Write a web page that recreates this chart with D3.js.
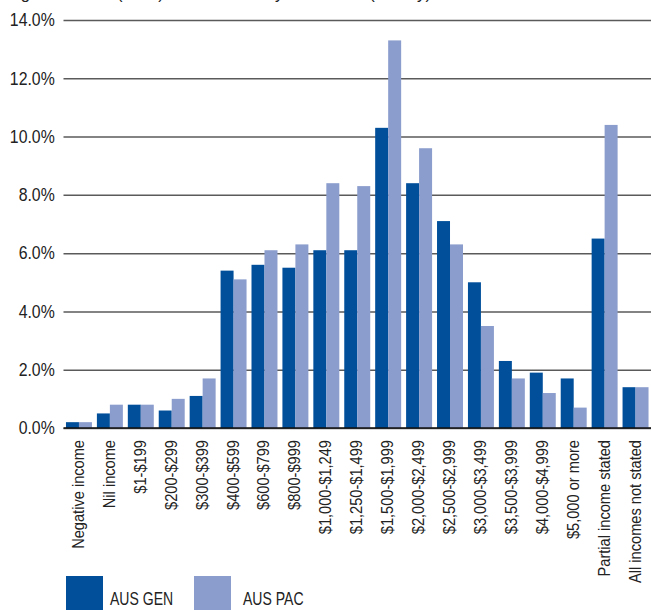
<!DOCTYPE html>
<html>
<head>
<meta charset="utf-8">
<script src="https://cdn.jsdelivr.net/npm/d3@7"></script>
<style>
  html, body { margin: 0; padding: 0; background: #fff; }
  svg { display: block; }
  text { font-family: "Liberation Sans", Arial, sans-serif; fill: #222; }
</style>
</head>
<body>
<svg id="chart" width="651" height="610"></svg>
<script>
const categories = [
  "Negative income", "Nil income", "$1-$199", "$200-$299", "$300-$399",
  "$400-$599", "$600-$799", "$800-$999", "$1,000-$1,249", "$1,250-$1,499",
  "$1,500-$1,999", "$2,000-$2,499", "$2,500-$2,999", "$3,000-$3,499",
  "$3,500-$3,999", "$4,000-$4,999", "$5,000 or more", "Partial income stated",
  "All incomes not stated"
];
const seriesNames = ["AUS GEN", "AUS PAC"];
const ausGen = [0.2, 0.5, 0.8, 0.6, 1.1, 5.4, 5.6, 5.5, 6.1, 6.1, 10.3, 8.4, 7.1, 5.0, 2.3, 1.9, 1.7, 6.5, 1.4];
const ausPac = [0.2, 0.8, 0.8, 1.0, 1.7, 5.1, 6.1, 6.3, 8.4, 8.3, 13.3, 9.6, 6.3, 3.5, 1.7, 1.2, 0.7, 10.4, 1.4];
const yTicks = [0, 2, 4, 6, 8, 10, 12, 14];
const titleParts = ["Figure 10.12", "(2011) Total income by household (weekly)"];
const colors = ["#014f9b", "#8b9dcd"];

const svg = d3.select("#chart");
const margin = { left: 63.5, right: 0, top: 20, bottom: 182 };
const W = 651, H = 610;

const x = d3.scaleBand().domain(categories).range([margin.left, W - margin.right])
  .paddingInner(0.16).paddingOuter(0.08);
const y = d3.scaleLinear().domain([0, 14]).range([H - margin.bottom, margin.top]);
const xs = d3.scaleBand().domain(seriesNames).range([0, x.bandwidth()]);

// title (cut off at the top in the reference; only descenders visible)
const title = svg.append("text").attr("y", -1).attr("font-size", 16.6);
title.append("tspan").attr("x", 7).text(titleParts[0]);
title.append("tspan").attr("x", 117).text(titleParts[1]);

// gridlines + y axis labels
const yAxis = d3.axisLeft(y).tickValues(yTicks)
  .tickFormat(d => d.toFixed(1) + "%")
  .tickSize(-(W - margin.left)).tickPadding(10);
const gy = svg.append("g").attr("transform", `translate(${margin.left},0)`).call(yAxis);
gy.select(".domain").remove();
gy.selectAll(".tick line").attr("stroke", "#5a5a5a").attr("stroke-width", 1.5);
gy.selectAll(".tick text").attr("font-size", 18).attr("fill", "#222")
  .style("font-family", '"Liberation Sans", Arial, sans-serif')
  .attr("transform", "scale(0.88,1)");

// bars
const rows = categories.map((c, i) => ({ c, vals: [ausGen[i], ausPac[i]] }));
const grp = svg.append("g").selectAll("g").data(rows).join("g")
  .attr("transform", d => `translate(${x(d.c)},0)`);
grp.selectAll("rect").data(d => d.vals.map((v, j) => ({ s: seriesNames[j], v, j })))
  .join("rect")
  .attr("x", d => xs(d.s))
  .attr("width", xs.bandwidth())
  .attr("y", d => y(d.v))
  .attr("height", d => y(0) - y(d.v))
  .attr("fill", d => colors[d.j]);

// baseline
svg.append("line").attr("x1", margin.left).attr("x2", W)
  .attr("y1", y(0)).attr("y2", y(0)).attr("stroke", "#111").attr("stroke-width", 1.5);

// x axis labels
const xAxis = d3.axisBottom(x).tickSize(0).tickPadding(0);
const gx = svg.append("g").attr("transform", `translate(0,${y(0)})`).call(xAxis);
gx.select(".domain").remove();
gx.selectAll(".tick text")
  .attr("font-size", 17).attr("fill", "#222")
  .style("font-family", '"Liberation Sans", Arial, sans-serif')
  .attr("text-anchor", "end")
  .attr("dy", null)
  .attr("transform", "translate(5,12) rotate(-90) scale(0.86,1)")
  .attr("x", 0).attr("y", 0);

// legend
const legX = [66, 194];
const lg = svg.append("g").selectAll("g").data(seriesNames).join("g")
  .attr("transform", (d, i) => `translate(${legX[i]},576)`);
lg.append("rect").attr("width", 37).attr("height", 34).attr("fill", (d, i) => colors[i]);
lg.append("text")
  .attr("transform", (d, i) => `translate(${i === 0 ? 44 : 49},29) scale(0.78,1)`)
  .attr("font-size", 18).text(d => d);
</script>
</body>
</html>
